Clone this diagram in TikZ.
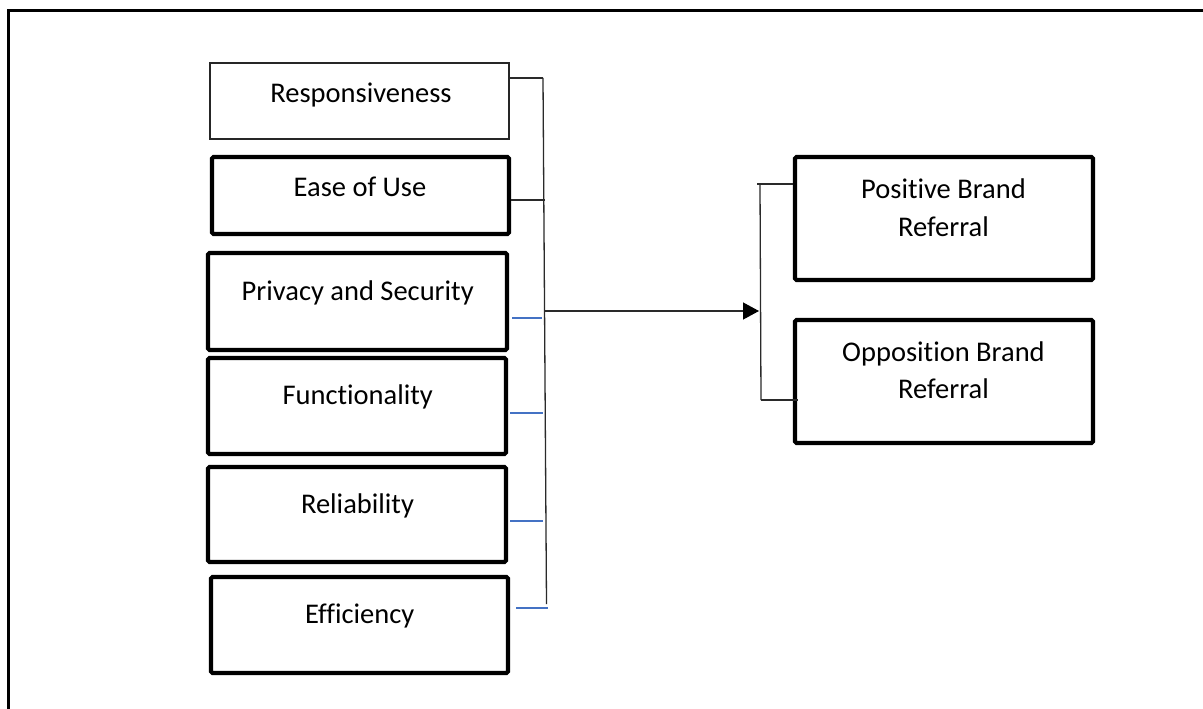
\documentclass[tikz,border=0pt]{standalone}
\usepackage{fontspec}
\setmainfont{Carlito}[Ligatures=NoCommon]
\usetikzlibrary{arrows.meta}
\definecolor{officeblue}{HTML}{4472C4}
\definecolor{linegray}{HTML}{2A2A2A}
\tikzset{
  box/.style={draw=black, line width=4.2pt, rounded corners=1.5pt, inner sep=0pt, fill=white},
  thinbox/.style={draw=black!85, line width=2pt, inner sep=0pt, fill=white},
  lbl/.style={anchor=base, inner sep=0pt, font=\fontsize{28.5}{37.5}\selectfont, align=center},
  conn/.style={draw=linegray, line width=1.3pt},
  bconn/.style={draw=officeblue, line width=1.6pt},
}
\begin{document}
\begin{tikzpicture}[x=1pt,y=-1pt]
\clip (0,0) rectangle (1203,709);
\fill[white] (0,0) rectangle (1203,709);
% outer frame (only top and left visible)
\draw[line width=3pt] (8,720) -- (8,11) -- (1220,11);

% left boxes
\node[thinbox, minimum width=299, minimum height=76] (b1) at (359.5,101) {};
\node[box, minimum width=297, minimum height=77] (b2) at (360.5,195.5) {};
\node[box, minimum width=299, minimum height=97] (b3) at (357.5,301.5) {};
\node[box, minimum width=298, minimum height=96] (b4) at (357,406) {};
\node[box, minimum width=298, minimum height=95] (b5) at (357,514.5) {};
\node[box, minimum width=297, minimum height=96] (b6) at (359.5,625) {};

\node[lbl] (t1) at (361,102.7) {Responsiveness};
\node[lbl] (t2) at (360,196.7) {Ease of Use};
\node[lbl] (t3) at (357.7,300) {Privacy and Security};
\node[lbl] (t4) at (357.7,404) {Functionality};
\node[lbl] (t5) at (357.5,513.3) {Reliability};
\node[lbl] (t6) at (359.7,623.3) {Efficiency};

% right boxes
\node[box, minimum width=298, minimum height=123] (bp) at (944,218.5) {};
\node[box, minimum width=298, minimum height=123] (bo) at (944,381.5) {};
\node[lbl] (tp) at (943.5,236) {Positive Brand\\Referral};
\node[lbl] (to) at (943.5,398.5) {Opposition Brand\\Referral};

% left bracket junctions
\coordinate (j1) at (543,78);
\coordinate (j2) at (545,200);
\coordinate (j3) at (542,318);
\coordinate (j4) at (543,413);
\coordinate (j5) at (543,521);
\coordinate (j6) at (548,608);
\coordinate (vtop) at (543,78);
\coordinate (vbot) at (546.5,604);
\coordinate (s3) at (512,318);
\coordinate (s4) at (510,413);
\coordinate (s5) at (510,521);
\coordinate (s6) at (516,608);

\draw[conn] (vtop) -- (vbot);
\draw[conn] (b1.east |- j1) -- (j1);
\draw[conn] (b2.east |- j2) -- (j2);
\draw[bconn] (s3) -- (j3);
\draw[bconn] (s4) -- (j4);
\draw[bconn] (s5) -- (j5);
\draw[bconn] (s6) -- (j6);

% arrow
\coordinate (as) at (545,311);
\coordinate (ae) at (759,311);
\draw[conn, -{Triangle[length=16pt,width=17pt,color=black]}] (as) -- (ae);

% right bracket
\coordinate (rt) at (757,184);
\coordinate (rtv) at (760,184);
\coordinate (rbv) at (761,400);
\coordinate (rbe) at (798,400);
\draw[conn] (rtv) -- (rbv);
\draw[conn] (rt) -- (bp.west |- rt);
\draw[conn] (rbv) -- (rbe);
\end{tikzpicture}
\end{document}
